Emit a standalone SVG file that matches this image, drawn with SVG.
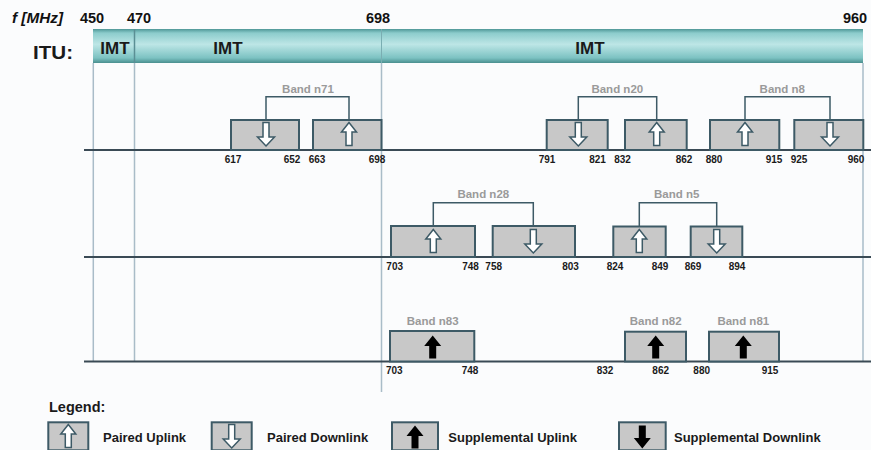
<svg xmlns="http://www.w3.org/2000/svg" width="871" height="450" viewBox="0 0 871 450">
<defs>
<linearGradient id="bar" x1="0" y1="0" x2="0" y2="1">
<stop offset="0" stop-color="#4f9797"/>
<stop offset="0.12" stop-color="#8ccccc"/>
<stop offset="0.45" stop-color="#bde6e6"/>
<stop offset="0.85" stop-color="#7cc2c2"/>
<stop offset="1" stop-color="#4a8f8f"/>
</linearGradient>
<path id="upH" d="M0,-11.5 L7.5,-2 L3,-2 L3,11.5 L-3,11.5 L-3,-2 L-7.5,-2 Z" fill="#ffffff" stroke="#3d5a66" stroke-width="1.5" stroke-linejoin="miter"/>
<path id="dnH" d="M0,12 L8.5,3 L3,3 L3,-11.5 L-3,-11.5 L-3,3 L-8.5,3 Z" fill="#ffffff" stroke="#3d5a66" stroke-width="1.5"/>
<path id="upB" d="M0,-11.5 L8.5,-1 L3.5,-1 L3.5,11.5 L-3.5,11.5 L-3.5,-1 L-8.5,-1 Z" fill="#000000"/>
<path id="dnB" d="M0,11.5 L8.5,1 L3.5,1 L3.5,-11.5 L-3.5,-11.5 L-3.5,1 L-8.5,1 Z" fill="#000000"/>
</defs>
<style>
.box{fill:#c8c8c8;stroke:#3d5a66;stroke-width:2}
.row{stroke:#3a4a55;stroke-width:2}
.vl{stroke:#a9bcc8;stroke-width:1.5}
.br{fill:none;stroke:#3d5a66;stroke-width:1.5}
.bl{font-family:"Liberation Sans",Arial,sans-serif;font-weight:bold;font-size:11.5px;fill:#9a9a9a;text-anchor:middle}
.num{font-family:"Liberation Sans",Arial,sans-serif;font-weight:bold;font-size:10px;fill:#1a1a1a;text-anchor:middle}
.hd{font-family:"Liberation Sans",Arial,sans-serif;font-weight:bold;font-size:14.5px;fill:#111}
.imt{font-family:"Liberation Sans",Arial,sans-serif;font-weight:bold;font-size:17px;fill:#1a1a1a;text-anchor:middle}
.lg{font-family:"Liberation Sans",Arial,sans-serif;font-weight:bold;font-size:13px;fill:#1a1a1a}
</style>
<rect width="871" height="450" fill="#fbfcfd"/>

<g id="header">
<text class="hd" x="12" y="23" font-style="italic" textLength="51" lengthAdjust="spacingAndGlyphs">f [MHz]</text>
<text class="hd" x="92" y="23" text-anchor="middle">450</text>
<text class="hd" x="139" y="23" text-anchor="middle">470</text>
<text class="hd" x="378" y="23" text-anchor="middle">698</text>
<text class="hd" x="855" y="23" text-anchor="middle">960</text>
<text x="33" y="59" font-family="Liberation Sans, Arial, sans-serif" font-weight="bold" font-size="19" fill="#1a1a1a" textLength="40" lengthAdjust="spacingAndGlyphs">ITU:</text>
</g>

<g id="itu-bar">
<rect x="93" y="29" width="770" height="34" fill="url(#bar)"/>
<line x1="134.5" y1="29" x2="134.5" y2="63" stroke="#5b8f94" stroke-width="1.5"/>
<line x1="381.5" y1="29" x2="381.5" y2="63" stroke="#7aaeb2" stroke-width="1"/>
<text class="imt" x="115" y="54">IMT</text>
<text class="imt" x="228" y="54">IMT</text>
<text class="imt" x="590" y="54">IMT</text>
</g>

<g id="grid">
<line class="vl" x1="93.3" y1="63" x2="93.3" y2="361"/>
<line class="vl" x1="134.5" y1="63" x2="134.5" y2="361"/>
<line class="vl" x1="381.5" y1="63" x2="381.5" y2="392"/>
<line class="vl" x1="863" y1="63" x2="863" y2="361"/>
<line class="row" x1="84" y1="150" x2="871" y2="150"/>
<line class="row" x1="84" y1="257" x2="871" y2="257"/>
<line class="row" x1="84" y1="361.5" x2="871" y2="361.5"/>
</g>

<g id="connectors">
<polyline class="br" points="266,120 266,96.7 349,96.7 349,120"/>
<polyline class="br" points="578.3,120 578.3,96.7 656.7,96.7 656.7,120"/>
<polyline class="br" points="745,120 745,96.7 830,96.7 830,120"/>
<polyline class="br" points="433.3,226 433.3,202.7 533.3,202.7 533.3,226"/>
<polyline class="br" points="639.3,226.5 639.3,202.7 716.7,202.7 716.7,226.5"/>
</g>

<g id="band-n71">
<text class="bl" x="308" y="93">Band n71</text>
<rect class="box" x="231" y="120" width="68" height="30"/>
<rect class="box" x="313" y="120" width="68.5" height="30"/>
<use href="#dnH" x="266" y="134"/>
<use href="#upH" x="349" y="134"/>
<text class="num" x="233" y="163">617</text>
<text class="num" x="292" y="163">652</text>
<text class="num" x="317" y="163">663</text>
<text class="num" x="377" y="163">698</text>
</g>

<g id="band-n20">
<text class="bl" x="617.3" y="93">Band n20</text>
<rect class="box" x="546.7" y="120" width="61" height="30"/>
<rect class="box" x="625" y="120" width="61.7" height="30"/>
<use href="#dnH" x="578.3" y="134"/>
<use href="#upH" x="656.7" y="134"/>
<text class="num" x="547" y="163">791</text>
<text class="num" x="597.5" y="163">821</text>
<text class="num" x="622.5" y="163">832</text>
<text class="num" x="684" y="163">862</text>
</g>

<g id="band-n8">
<text class="bl" x="782.3" y="93">Band n8</text>
<rect class="box" x="710" y="120" width="69.3" height="30"/>
<rect class="box" x="794.3" y="120" width="69" height="30"/>
<use href="#upH" x="745" y="134"/>
<use href="#dnH" x="830" y="134"/>
<text class="num" x="714" y="163">880</text>
<text class="num" x="774" y="163">915</text>
<text class="num" x="799" y="163">925</text>
<text class="num" x="856" y="163">960</text>
</g>

<g id="band-n28">
<text class="bl" x="483.3" y="198">Band n28</text>
<rect class="box" x="391" y="226" width="84" height="31"/>
<rect class="box" x="492.7" y="226" width="82.3" height="31"/>
<use href="#upH" x="433.3" y="241"/>
<use href="#dnH" x="533.3" y="241"/>
<text class="num" x="394.7" y="269.5">703</text>
<text class="num" x="470.5" y="269.5">748</text>
<text class="num" x="493.7" y="269.5">758</text>
<text class="num" x="570.5" y="269.5">803</text>
</g>

<g id="band-n5">
<text class="bl" x="676.7" y="198">Band n5</text>
<rect class="box" x="613.3" y="226.5" width="52.4" height="30.5"/>
<rect class="box" x="690.7" y="226.5" width="51.6" height="30.5"/>
<use href="#upH" x="639.3" y="241"/>
<use href="#dnH" x="716.7" y="241"/>
<text class="num" x="615" y="269.5">824</text>
<text class="num" x="660" y="269.5">849</text>
<text class="num" x="693" y="269.5">869</text>
<text class="num" x="737" y="269.5">894</text>
</g>

<g id="band-n83">
<text class="bl" x="432.7" y="325">Band n83</text>
<rect class="box" x="390" y="331" width="84.3" height="30.5"/>
<use href="#upB" x="432.7" y="347"/>
<text class="num" x="394.3" y="373.5">703</text>
<text class="num" x="470" y="373.5">748</text>
</g>

<g id="band-n82">
<text class="bl" x="655.7" y="325">Band n82</text>
<rect class="box" x="625" y="331.7" width="61" height="29.8"/>
<use href="#upB" x="655.7" y="347"/>
<text class="num" x="605" y="373.5">832</text>
<text class="num" x="660.7" y="373.5">862</text>
</g>

<g id="band-n81">
<text class="bl" x="743.3" y="325">Band n81</text>
<rect class="box" x="709" y="331.7" width="70" height="29.8"/>
<use href="#upB" x="743.3" y="347"/>
<text class="num" x="701.7" y="373.5">880</text>
<text class="num" x="770" y="373.5">915</text>
</g>

<g id="legend">
<text x="49" y="412" font-family="Liberation Sans, Arial, sans-serif" font-weight="bold" font-size="14.5" fill="#1a1a1a">Legend:</text>
<rect class="box" x="48.3" y="422.3" width="40" height="28"/>
<use href="#upH" x="68.3" y="436"/>
<text class="lg" x="103" y="442">Paired Uplink</text>
<rect class="box" x="211.7" y="422.3" width="40" height="28"/>
<use href="#dnH" x="231.7" y="436"/>
<text class="lg" x="267" y="442">Paired Downlink</text>
<rect class="box" x="392" y="422.3" width="46" height="28"/>
<use href="#upB" x="415" y="437"/>
<text class="lg" x="448.3" y="442">Supplemental Uplink</text>
<rect class="box" x="619" y="422.3" width="46.7" height="28"/>
<use href="#dnB" x="642.3" y="437"/>
<text class="lg" x="674" y="442">Supplemental Downlink</text>
</g>
</svg>
